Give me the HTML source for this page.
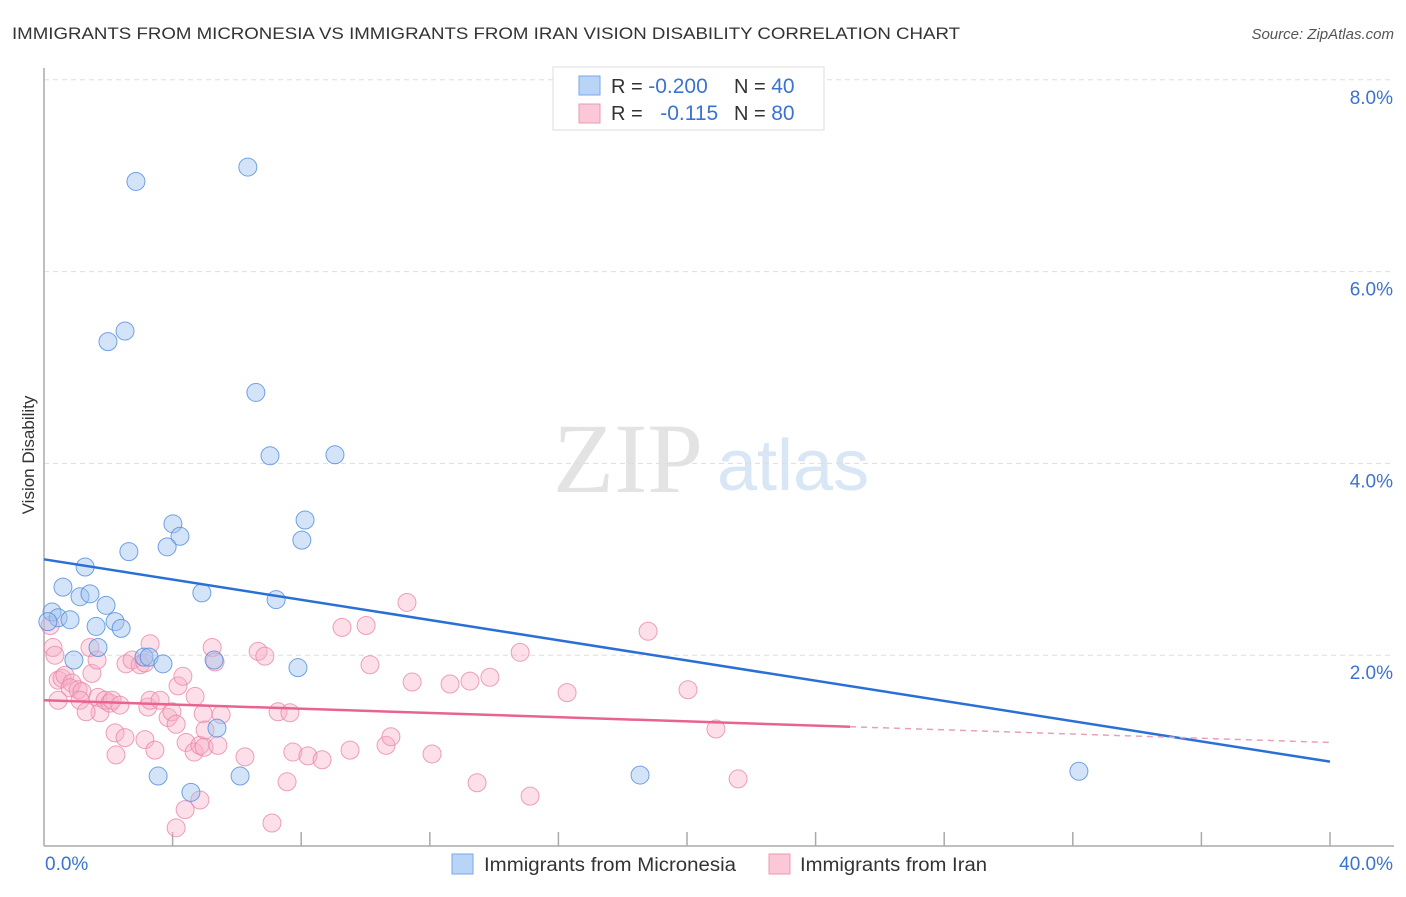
<!DOCTYPE html>
<html><head><meta charset="utf-8"><style>
body{margin:0;background:#fff;font-family:"Liberation Sans",sans-serif}
</style></head><body>
<svg id="c" width="1406" height="892" xmlns="http://www.w3.org/2000/svg">
<text x="12" y="39" font-size="17" fill="#333" textLength="948" lengthAdjust="spacingAndGlyphs">IMMIGRANTS FROM MICRONESIA VS IMMIGRANTS FROM IRAN VISION DISABILITY CORRELATION CHART</text>
<text x="1394" y="39" font-size="15" fill="#555" font-style="italic" text-anchor="end">Source: ZipAtlas.com</text>
<text x="0" y="0" transform="translate(34,455) rotate(-90)" font-size="17" fill="#333" text-anchor="middle">Vision Disability</text>
<g>
<text x="553" y="492" font-family="Liberation Serif,serif" font-size="100" fill="#e3e3e3">ZIP</text>
<text x="717" y="490" font-size="72" fill="#d8e6f6">atlas</text>
</g>
<g id="grid"></g><g id="axes"></g><g id="pts"></g><g id="trend"></g>
<g>
<rect x="553" y="67" width="271" height="63" fill="#fff" stroke="#ddd"/>
<rect x="579" y="76" width="21" height="19" fill="#b8d4f6" stroke="#7aa8e8"/>
<rect x="579" y="104" width="21" height="19" fill="#fac8d6" stroke="#eb9ab4"/>
<text x="611" y="93" font-size="20" fill="#333">R = <tspan fill="#3a74d0" font-size="21">-0.200</tspan></text>
<text x="734" y="93" font-size="20" fill="#333">N = <tspan fill="#3a74d0" font-size="21">40</tspan></text>
<text x="611" y="120" font-size="20" fill="#333">R = <tspan fill="#3a74d0" dx="12" font-size="21">-0.115</tspan></text>
<text x="734" y="120" font-size="20" fill="#333">N = <tspan fill="#3a74d0" font-size="21">80</tspan></text>
</g>
<g>
<rect x="452" y="854" width="21" height="20" fill="#b8d4f6" stroke="#7aa8e8"/>
<text x="484" y="871" font-size="19" fill="#333" textLength="252" lengthAdjust="spacingAndGlyphs">Immigrants from Micronesia</text>
<rect x="769" y="854" width="21" height="20" fill="#fac8d6" stroke="#eb9ab4"/>
<text x="800" y="871" font-size="19" fill="#333" textLength="187" lengthAdjust="spacingAndGlyphs">Immigrants from Iran</text>
</g>
</svg>
<script>
const blueX=[2.86,6.34,1.99,2.52,6.59,7.03,9.05,4.01,4.23,3.83,8.12,8.02,2.64,1.28,0.59,4.91,1.12,1.43,1.93,7.22,0.25,0.44,0.81,0.12,1.62,2.21,2.40,1.68,3.11,3.27,0.93,3.70,5.29,7.90,5.38,3.55,6.10,4.57,18.54,32.19];
const blueY=[6.94,7.09,5.27,5.38,4.74,4.08,4.09,3.37,3.24,3.13,3.41,3.20,3.08,2.92,2.71,2.65,2.61,2.64,2.52,2.58,2.45,2.39,2.37,2.35,2.30,2.35,2.28,2.08,1.98,1.98,1.95,1.91,1.95,1.87,1.24,0.74,0.74,0.57,0.75,0.79];
const pinkX=[0.19,0.28,0.34,0.44,0.56,0.65,0.87,0.81,1.06,1.18,1.12,1.49,1.43,1.68,1.74,1.31,1.90,2.05,2.12,2.21,2.24,2.36,2.55,2.52,2.74,2.99,3.14,3.30,3.14,3.23,3.30,3.45,3.61,3.86,3.98,4.11,4.17,4.32,4.42,4.67,4.70,4.85,4.98,4.95,5.23,5.32,5.41,5.01,5.51,4.39,4.11,4.85,6.25,6.66,6.87,7.28,7.65,7.56,7.09,7.74,8.21,8.65,9.27,9.52,10.02,10.14,10.64,10.79,11.29,11.45,12.07,12.63,13.25,13.47,13.87,14.81,15.12,16.27,18.79,20.03,20.90,21.59,1.65,0.44];
const pinkY=[2.31,2.08,2.00,1.74,1.76,1.79,1.71,1.66,1.64,1.62,1.53,1.81,2.08,1.56,1.40,1.41,1.53,1.50,1.53,1.19,0.96,1.48,1.91,1.14,1.95,1.90,1.92,2.12,1.12,1.46,1.53,1.01,1.53,1.35,1.41,1.28,1.68,1.78,1.09,0.99,1.57,1.06,1.04,1.39,2.08,1.93,1.06,1.22,1.38,0.39,0.20,0.49,0.94,2.04,1.99,1.41,1.40,0.68,0.25,0.99,0.95,0.91,2.29,1.01,2.31,1.90,1.06,1.15,2.55,1.72,0.97,1.70,1.73,0.67,1.77,2.03,0.53,1.61,2.25,1.64,1.23,0.71,1.95,1.53];
const yTicks=[2,4,6,8];
const yTickLabels=["2.0%","4.0%","6.0%","8.0%"];
const xTicks=[4,8,12,16,20,24,28,32,36,40];
const blueTrend=[3.0,0.89];
const pinkTrend=[1.53,1.09];
const pinkSolidEnd=25.07;
const NS="http://www.w3.org/2000/svg";
const sx=v=>44+v*32.15, sy=v=>847-v*95.9;
function mk(p,t,a){const e=document.createElementNS(NS,t);for(const k in a)e.setAttribute(k,a[k]);p.appendChild(e);return e;}
const grid=document.getElementById('grid'),axes=document.getElementById('axes'),pts=document.getElementById('pts'),tr=document.getElementById('trend');
yTicks.forEach((t,i)=>{
 const l=mk(grid,'line',{x1:44,x2:1394,y1:sy(t),y2:sy(t),stroke:'#ddd','stroke-dasharray':'5,4'});
 
 
 const tx=mk(grid,'text',{x:1393,y:sy(t)+24,'font-size':19,fill:'#3a74d0','text-anchor':'end'});
 tx.textContent=yTickLabels[i];
 
 
});
mk(axes,'line',{x1:44,x2:44,y1:68,y2:846,stroke:'#aaa','stroke-width':1.5});
mk(axes,'line',{x1:44,x2:1394,y1:846,y2:846,stroke:'#aaa','stroke-width':1.5});
xTicks.forEach(t=>{const l=mk(axes,'line',{x1:sx(t),x2:sx(t),y1:832,y2:846,stroke:'#aaa','stroke-width':1.5});
 
 });
let a=mk(axes,'text',{x:45,y:870,'font-size':19,fill:'#3a74d0'});a.textContent='0.0%';


a=mk(axes,'text',{x:1393,y:870,'font-size':19,fill:'#3a74d0','text-anchor':'end'});a.textContent='40.0%';


pinkX.forEach((x,i)=>{const c=mk(pts,'circle',{cx:sx(x),cy:sy(pinkY[i]),r:9,fill:'rgba(248,175,198,0.4)',stroke:'rgba(232,130,165,0.75)'});
 
 });
blueX.forEach((x,i)=>{const c=mk(pts,'circle',{cx:sx(x),cy:sy(blueY[i]),r:9,fill:'rgba(160,196,240,0.45)',stroke:'rgba(80,140,220,0.8)'});
 
 });
let l=mk(tr,'line',{x1:sx(0),y1:sy(blueTrend[0]),x2:sx(40),y2:sy(blueTrend[1]),stroke:'#2a6fd6','stroke-width':2.5});


const pe=pinkTrend[0]+(pinkTrend[1]-pinkTrend[0])*pinkSolidEnd/40;
l=mk(tr,'line',{x1:sx(0),y1:sy(pinkTrend[0]),x2:sx(pinkSolidEnd),y2:sy(pe),stroke:'#e8648f','stroke-width':2.5});


l=mk(tr,'line',{x1:sx(pinkSolidEnd),y1:sy(pe),x2:sx(40),y2:sy(pinkTrend[1]),stroke:'#e8a0b8','stroke-width':1.5,'stroke-dasharray':'6,5'});


</script>
</body></html>
